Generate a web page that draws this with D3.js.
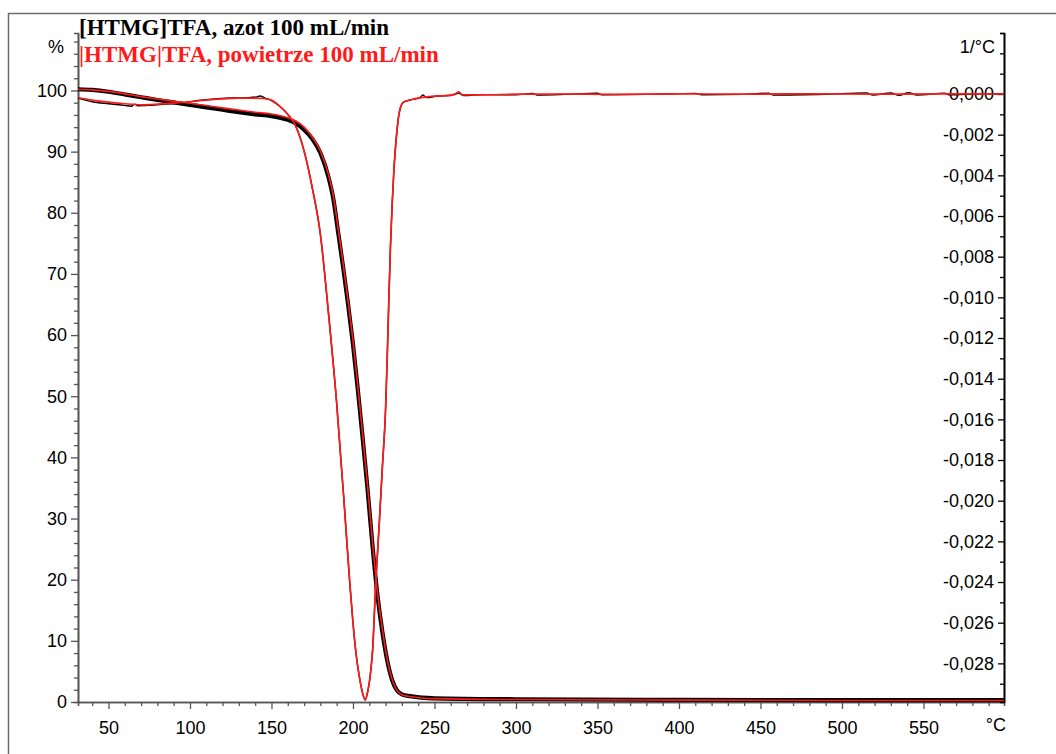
<!DOCTYPE html>
<html>
<head>
<meta charset="utf-8">
<script src="https://cdn.jsdelivr.net/npm/d3@7"></script>
<style>
  html, body { margin: 0; padding: 0; background: #fff; }
  svg { display: block; }
  .tick text { font-family: "Liberation Sans", Arial, sans-serif; font-size: 18px; fill: #000; }
</style>
</head>
<body>
<div id="chart"></div>
<script>
// temperature (°C) vs mass (%) -- nitrogen
const tgN2 = [
  [31.3, 100.2], [40, 100.1], [50, 99.8], [60, 99.35], [70, 98.9], [80, 98.45], [90, 98.05],
  [100, 97.65], [110, 97.25], [120, 96.85], [130, 96.45], [140, 96.1], [150, 95.8], [155, 95.55],
  [160, 95.2], [165, 94.6], [170, 93.6], [175, 92.1], [180, 89.8], [185, 85.8], [188, 82.2],
  [191, 76.6], [194, 71.0], [197, 65.0], [200, 58.5], [203, 51.0], [206, 43.0], [209, 34.6],
  [212, 25.5], [215, 17.5], [218, 11.5], [221, 6.8], [224, 3.6], [227, 1.9], [230, 1.25],
  [235, 0.95], [250, 0.6], [300, 0.45], [400, 0.35], [500, 0.3], [599.4, 0.3]
];
// temperature (°C) vs mass (%) -- air
const tgAir = [
  [31.3, 100.2], [40, 100.1], [50, 99.85], [60, 99.45], [70, 99.0], [80, 98.6], [90, 98.25],
  [100, 97.9], [110, 97.55], [120, 97.15], [130, 96.8], [140, 96.45], [150, 96.15], [155, 95.9],
  [160, 95.55], [165, 95.0], [170, 94.0], [175, 92.4], [180, 90.1], [185, 86.2], [188, 82.7],
  [191, 77.2], [194, 71.6], [197, 65.6], [200, 59.1], [203, 51.6], [206, 43.6], [209, 35.2],
  [212, 26.1], [215, 18.0], [218, 11.9], [221, 7.0], [224, 3.7], [227, 1.9], [230, 1.2],
  [235, 0.9], [250, 0.55], [300, 0.4], [400, 0.3], [500, 0.25], [599.4, 0.25]
];
// temperature (°C) vs DTG (1/°C) -- nitrogen
const dtgN2 = [
  [31.3, -0.0002], [40, -0.00038], [50, -0.00048], [60, -0.00056], [64, -0.0006], [66, -0.0005],
  [68, -0.00058], [75, -0.00056], [85, -0.0005], [95, -0.00044], [105, -0.00032], [115, -0.00024],
  [125, -0.0002], [135, -0.00018], [141, -0.00014], [143, -0.0001], [146, -0.0002], [150, -0.00032],
  [155, -0.0006], [160, -0.001], [165, -0.0016], [170, -0.0028], [175, -0.0046], [180, -0.0069],
  [185, -0.0108], [190, -0.0152], [195, -0.0206], [198, -0.024], [200, -0.026], [202, -0.0276],
  [204, -0.0287], [206, -0.0295], [207.5, -0.0298], [209, -0.0294], [211, -0.0283], [212, -0.0274],
  [214, -0.024], [216, -0.0213], [218, -0.0184], [220, -0.0155], [221, -0.013], [222, -0.0101],
  [223, -0.0075], [224, -0.0055], [225, -0.0039], [226, -0.0027], [227, -0.0018], [228, -0.0011],
  [229, -0.0007], [231, -0.0004], [236, -0.00028], [241, -0.00018], [243, -0.00005], [245, -0.00018],
  [252, -0.0001], [260, -0.00006], [265, 0.00004], [268, -0.00008], [280, -0.00003], [300, -0.00004],
  [310, 0.00003], [313, -0.00005], [330, -0.00002], [350, 0.00004], [353, -0.00004], [380, -0.00002],
  [410, 0.00003], [414, -0.00004], [440, -0.00002], [455, 0.00004], [458, -0.00005], [490, -0.00001],
  [515, 0.00005], [519, -0.00005], [530, 0.00005], [535, -0.00006], [541, 0.00006], [546, -0.00005],
  [563, 0.00004], [566, -0.00004], [585, 0.00001], [599.4, 0]
];
// temperature (°C) vs DTG (1/°C) -- air
const dtgAir = [
  [31.3, -0.00017], [40, -0.0003], [50, -0.0004], [60, -0.00048], [70, -0.00053], [80, -0.0005],
  [90, -0.00045], [100, -0.00038], [110, -0.0003], [120, -0.00024], [130, -0.0002], [140, -0.0002],
  [145, -0.00022], [150, -0.0003], [155, -0.0006], [160, -0.001], [165, -0.0016], [170, -0.0028],
  [175, -0.0046], [180, -0.0069], [185, -0.0108], [190, -0.0152], [195, -0.0206], [198, -0.024],
  [200, -0.026], [202, -0.0276], [204, -0.0287], [206, -0.0295], [207.5, -0.0298], [209, -0.0294],
  [211, -0.0283], [212, -0.0274], [214, -0.024], [216, -0.0213], [218, -0.0184], [220, -0.0155],
  [221, -0.013], [222, -0.0101], [223, -0.0075], [224, -0.0055], [225, -0.0039], [226, -0.0027],
  [227, -0.0018], [228, -0.0011], [229, -0.0007], [231, -0.0004], [236, -0.00027], [242, -0.00018],
  [250, -0.0001], [258, -0.00008], [262, -0.00003], [265, 0.0001], [267, -0.00004], [280, -0.00004],
  [300, -0.00001], [330, 0], [360, -0.00002], [400, 0.00001], [440, -0.00001], [480, 0.00001],
  [520, -0.00001], [560, 0.00001], [599.4, 0]
];

const xMajorTicks = [50, 100, 150, 200, 250, 300, 350, 400, 450, 500, 550];
const yLeftTicks = [0, 10, 20, 30, 40, 50, 60, 70, 80, 90, 100];
const yRightTicks = [0, -0.002, -0.004, -0.006, -0.008, -0.010, -0.012, -0.014, -0.016,
  -0.018, -0.020, -0.022, -0.024, -0.026, -0.028];
const titleN2 = "[HTMG]TFA, azot 100 mL/min";
const titleAir = "|HTMG|TFA, powietrze 100 mL/min";

const W = 1056, H = 754;
const plot = { left: 78, right: 1004, top: 33, bottom: 702 };

const x = d3.scaleLinear().domain([31.3, 599.4]).range([plot.left, plot.right]);
const yL = d3.scaleLinear().domain([0, 109.4]).range([plot.bottom, plot.top]);
const yR = d3.scaleLinear().domain([-0.0299, 0.0030]).range([plot.bottom, plot.top]);

const svg = d3.select("#chart").append("svg")
  .attr("width", W)
  .attr("height", H);

// outer frame (only top/left edges are inside the picture)
svg.append("rect")
  .attr("x", 8.5).attr("y", 13.5)
  .attr("width", 1200).attr("height", 900)
  .attr("fill", "none")
  .attr("stroke", "#6b6b6b")
  .attr("stroke-width", 1.5);

const commaFmt = d3.formatLocale({ decimal: ",", thousands: ".", grouping: [3], currency: ["", ""], minus: "-" }).format(".3f");

function styleAxis(g, color) {
  g.select(".domain").attr("stroke", color).attr("stroke-width", 1.6);
  g.selectAll(".tick line").attr("stroke", color).attr("stroke-width", 1.3);
}

// x axis
const xMinor = d3.range(40, 600, 10).filter(v => !xMajorTicks.includes(v));
svg.append("g")
  .attr("transform", `translate(0,${plot.bottom})`)
  .call(d3.axisBottom(x).tickValues(xMinor).tickSize(4).tickFormat(""))
  .call(g => styleAxis(g, "#555"));
svg.append("g")
  .attr("transform", `translate(0,${plot.bottom})`)
  .call(d3.axisBottom(x).tickValues(xMajorTicks).tickSize(7).tickPadding(12).tickSizeOuter(0).tickFormat(d3.format("d")))
  .call(g => styleAxis(g, "#555"));

// left axis
const yLMinor = d3.range(2, 109, 2).filter(v => !yLeftTicks.includes(v));
svg.append("g")
  .attr("transform", `translate(${plot.left},0)`)
  .call(d3.axisLeft(yL).tickValues(yLMinor).tickSize(4).tickFormat(""))
  .call(g => styleAxis(g, "#555"));
svg.append("g")
  .attr("transform", `translate(${plot.left},0)`)
  .call(d3.axisLeft(yL).tickValues(yLeftTicks).tickSize(7).tickPadding(4).tickSizeOuter(0).tickFormat(d3.format("d")))
  .call(g => styleAxis(g, "#555"));

// right axis (labels on the inner side)
const yRMinor = [0.003, 0.002, 0.001, -0.001, -0.003, -0.005, -0.007, -0.009, -0.011, -0.013, -0.015,
  -0.017, -0.019, -0.021, -0.023, -0.025, -0.027, -0.029];
svg.append("g")
  .attr("transform", `translate(${plot.right},0)`)
  .call(d3.axisLeft(yR).tickValues(yRMinor).tickSize(4).tickFormat(""))
  .call(g => styleAxis(g, "#000"));
svg.append("g")
  .attr("transform", `translate(${plot.right},0)`)
  .call(d3.axisLeft(yR).tickValues(yRightTicks).tickSize(6).tickPadding(4).tickSizeOuter(0).tickFormat(commaFmt))
  .call(g => styleAxis(g, "#000"));

// unit labels
const unitFont = '"Liberation Sans", Arial, sans-serif';
svg.append("text").attr("x", 64).attr("y", 53).attr("text-anchor", "end")
  .style("font-family", unitFont).style("font-size", "18px").text("%");
svg.append("text").attr("x", 995).attr("y", 53).attr("text-anchor", "end")
  .style("font-family", unitFont).style("font-size", "18px").text("1/°C");
svg.append("text").attr("x", 1006).attr("y", 731).attr("text-anchor", "end")
  .style("font-family", unitFont).style("font-size", "18px").text("°C");

// curves
const lineL = d3.line().x(d => x(d[0])).y(d => yL(d[1])).curve(d3.curveMonotoneX);
const lineR = d3.line().x(d => x(d[0])).y(d => yR(d[1])).curve(d3.curveMonotoneX);

const plotArea = svg.append("g");
plotArea.append("path").datum(tgN2).attr("d", lineL)
  .attr("fill", "none").attr("stroke", "#000").attr("stroke-width", 4.2).attr("stroke-linejoin", "round");
plotArea.append("path").datum(dtgN2).attr("d", lineR)
  .attr("fill", "none").attr("stroke", "#000").attr("stroke-width", 1.4);
plotArea.append("path").datum(tgAir).attr("d", lineL)
  .attr("fill", "none").attr("stroke", "#ff1a1a").attr("stroke-width", 1.6);
plotArea.append("path").datum(dtgAir).attr("d", lineR)
  .attr("fill", "none").attr("stroke", "#ff1a1a").attr("stroke-width", 1.7);

// titles
const titleFont = '"Liberation Serif", "Times New Roman", serif';
svg.append("text").attr("x", 79).attr("y", 35)
  .style("font-family", titleFont).style("font-size", "23px").style("font-weight", "bold")
  .attr("fill", "#000").text(titleN2);
svg.append("text").attr("x", 79).attr("y", 62)
  .style("font-family", titleFont).style("font-size", "23px").style("font-weight", "bold")
  .attr("fill", "#ff1a1a").text(titleAir);
</script>
</body>
</html>
